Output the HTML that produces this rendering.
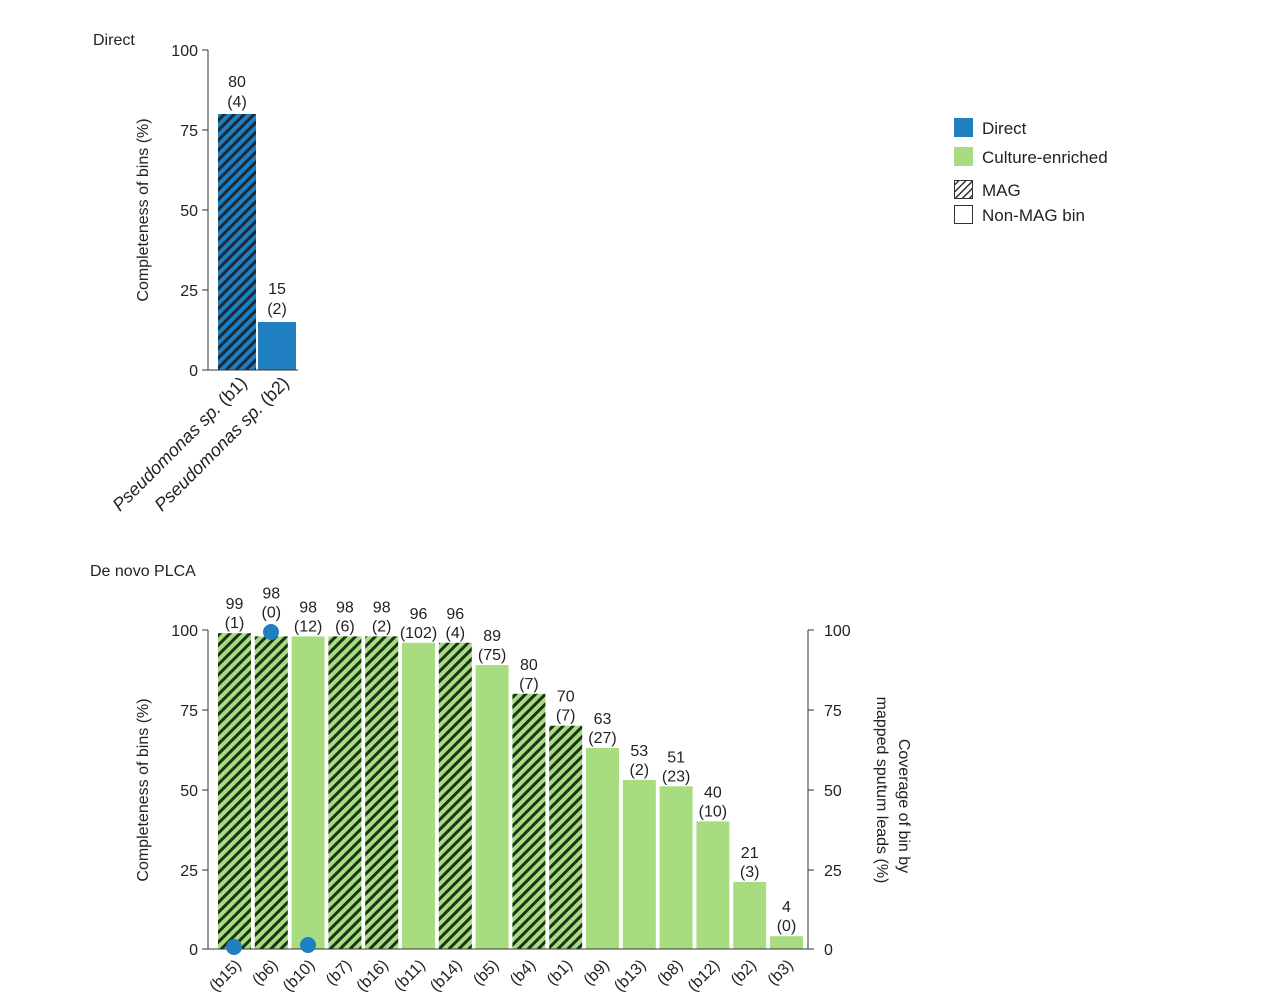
<!DOCTYPE html>
<html><head><meta charset="utf-8"><style>body{margin:0;background:#fff}svg{display:block}text{font-family:"Liberation Sans",sans-serif;fill:#222}</style></head><body>
<svg width="1280" height="997" viewBox="0 0 1280 997">
<defs>
<pattern id="hb" patternUnits="userSpaceOnUse" width="7" height="7" patternTransform="rotate(45)"><rect width="7" height="7" fill="#1f7fc0"/><rect width="3" height="7" fill="#1a2a38"/></pattern>
<pattern id="hg" patternUnits="userSpaceOnUse" width="7" height="7" patternTransform="rotate(45)"><rect width="7" height="7" fill="#a8dc80"/><rect width="3" height="7" fill="#1d3318"/></pattern>
<pattern id="hl" patternUnits="userSpaceOnUse" width="5" height="5" patternTransform="rotate(45)"><rect width="5" height="5" fill="#fff"/><rect width="1.5" height="5" fill="#333"/></pattern>
</defs>
<text x="93" y="45" font-size="16">Direct</text>
<g font-size="16" text-anchor="end">
<text x="198" y="56">100</text><text x="198" y="136">75</text><text x="198" y="216">50</text><text x="198" y="296">25</text><text x="198" y="376">0</text></g>
<path d="M208 50V370M202 50H208M202 130H208M202 210H208M202 290H208M202 370H208" stroke="#333" fill="none"/>
<rect x="218" y="114" width="38" height="256" fill="url(#hb)"/>
<rect x="258" y="322" width="38" height="48" fill="#1f7fc0"/>
<line x1="208" y1="370" x2="298" y2="370" stroke="#333"/>
<g font-size="16" text-anchor="middle"><text x="237" y="87">80</text><text x="237" y="107">(4)</text><text x="277" y="294">15</text><text x="277" y="314">(2)</text></g>
<text transform="translate(148 210) rotate(-90)" font-size="16" text-anchor="middle">Completeness of bins (%)</text>
<g font-size="18" text-anchor="end"><text transform="translate(248 384) rotate(-45)"><tspan font-style="italic">Pseudomonas sp.</tspan> (b1)</text><text transform="translate(290 384) rotate(-45)"><tspan font-style="italic">Pseudomonas sp.</tspan> (b2)</text></g>
<g font-size="17"><rect x="954" y="118" width="19" height="19" fill="#1f7fc0"/><text x="982" y="134">Direct</text>
<rect x="954" y="147" width="19" height="19" fill="#a8dc80"/><text x="982" y="163">Culture-enriched</text>
<rect x="954.5" y="180.5" width="18" height="18" fill="url(#hl)" stroke="#333"/><text x="982" y="196">MAG</text>
<rect x="954.5" y="205.5" width="18" height="18" fill="#fff" stroke="#333"/><text x="982" y="221">Non-MAG bin</text></g>
<text x="90" y="576" font-size="16">De novo PLCA</text>
<g font-size="16" text-anchor="end"><text x="198" y="636">100</text><text x="198" y="716">75</text><text x="198" y="796">50</text><text x="198" y="876">25</text><text x="198" y="955">0</text></g>
<path d="M208 630V949M202 630H208M202 710H208M202 790H208M202 870H208M202 949H208" stroke="#333" fill="none"/>
<path d="M808 630V949M808 630H814M808 710H814M808 790H814M808 870H814M808 949H814" stroke="#333" fill="none"/>
<g font-size="16"><text x="824" y="636">100</text><text x="824" y="716">75</text><text x="824" y="796">50</text><text x="824" y="876">25</text><text x="824" y="955">0</text></g>
<text transform="translate(148 790) rotate(-90)" font-size="16" text-anchor="middle">Completeness of bins (%)</text>
<text transform="translate(877 790) rotate(90)" font-size="16" text-anchor="middle">mapped sputum leads (%)</text>
<text transform="translate(899 806) rotate(90)" font-size="16" text-anchor="middle">Coverage of bin by</text>
<g id="bars" font-size="16" text-anchor="middle"></g>
<line x1="208" y1="949" x2="808" y2="949" stroke="#333"/>
<circle cx="234" cy="947" r="8" fill="#1f7fc0"/><circle cx="271" cy="632" r="8" fill="#1f7fc0"/><circle cx="308" cy="945" r="8" fill="#1f7fc0"/>
<g id="labs" font-size="16" text-anchor="end"></g>
</svg>
<script>
var v=[99,98,98,98,98,96,96,89,80,70,63,53,51,40,21,4],c=[1,0,12,6,2,102,4,75,7,7,27,2,23,10,3,0],
m=[1,1,0,1,1,0,1,0,1,1,0,0,0,0,0,0],n=["b15","b6","b10","b7","b16","b11","b14","b5","b4","b1","b9","b13","b8","b12","b2","b3"];
var g=document.getElementById("bars"),L=document.getElementById("labs"),h="",l="";
for(var i=0;i<16;i++){var x=218+i*36.8,t=949-v[i]*3.19,o=(i==1?-14:0);
h+='<rect x="'+x+'" y="'+t+'" width="33" height="'+(949-t)+'" fill="'+(m[i]?'url(#hg)':'#a8dc80')+'"/>';
h+='<text x="'+(x+16.5)+'" y="'+(t-24+o)+'">'+v[i]+'</text><text x="'+(x+16.5)+'" y="'+(t-5+o)+'">('+c[i]+')</text>';
l+='<text transform="translate('+(x+24)+' 966) rotate(-45)">('+n[i]+')</text>';}
g.innerHTML=h;L.innerHTML=l;
</script>
</body></html>
